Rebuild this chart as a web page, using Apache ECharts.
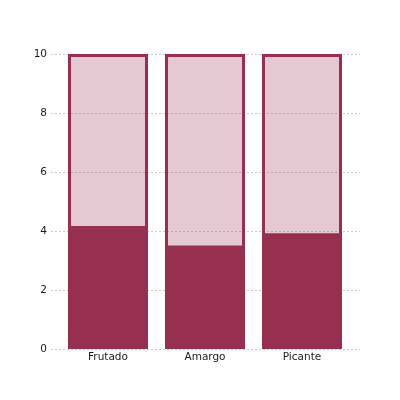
<!DOCTYPE html>
<html><head><meta charset="utf-8">
<script src="https://cdn.jsdelivr.net/npm/echarts@6/dist/echarts.min.js"></script>
<style>html,body{margin:0;padding:0;background:#fff}#c{width:400px;height:400px}</style>
</head><body><div id="c"></div>
<script>
const categories = ['Frutado', 'Amargo', 'Picante'];
const totals = [10, 10, 10];
const values = [4.17, 3.51, 3.92];
const yTicks = [0, 2, 4, 6, 8, 10];

const chart = echarts.init(document.getElementById('c'));
const font = 'DejaVu Sans';
chart.setOption({
  animation: false,
  backgroundColor: '#ffffff',
  grid: [
    {left: 51, right: 40, top: 54, bottom: 51},
    {left: 59.5, right: 49.5, top: 54, bottom: 51}
  ],
  xAxis: [
    {gridIndex: 0, type: 'category', data: categories, show: false},
    {gridIndex: 1, type: 'category', data: categories,
     axisLine: {show: false}, axisTick: {show: false},
     axisLabel: {color: '#1a1a1a', fontFamily: font, fontSize: 10.5, margin: 3}}
  ],
  yAxis: [
    {gridIndex: 0, type: 'value', min: yTicks[0], max: yTicks[yTicks.length-1], interval: 2,
     axisLine: {show: false}, axisTick: {show: false},
     axisLabel: {color: '#1a1a1a', fontFamily: font, fontSize: 10.5, margin: 4},
     splitLine: {show: true, lineStyle: {color: '#cccccc', type: [2, 2], width: 1}}},
    {gridIndex: 1, type: 'value', min: 0, max: 10, show: false, splitLine: {show: false}}
  ],
  series: [
    {type: 'bar', xAxisIndex: 1, yAxisIndex: 1, data: totals, barWidth: 80, barGap: '-100%',
     itemStyle: {color: 'rgba(155,45,80,0.26)', borderColor: '#9b2d50', borderWidth: 3}},
    {type: 'bar', xAxisIndex: 1, yAxisIndex: 1, data: values, barWidth: 80, barGap: '-100%',
     itemStyle: {color: '#97304e'}}
  ]
});
</script></body></html>
